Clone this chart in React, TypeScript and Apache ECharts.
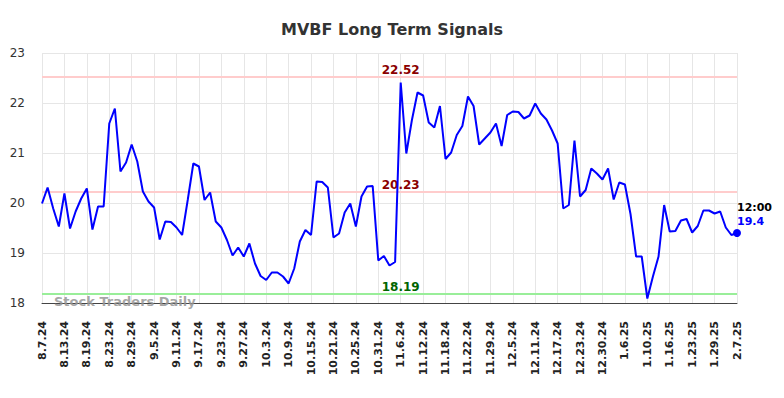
import React, { useEffect, useRef } from "react";
import * as echarts from "echarts";

const titleText = "MVBF Long Term Signals";

const dates: string[] = [
  "8.7.24","8.8.24","8.9.24","8.12.24","8.13.24","8.14.24","8.15.24","8.16.24","8.19.24","8.20.24",
  "8.21.24","8.22.24","8.23.24","8.26.24","8.27.24","8.28.24","8.29.24","8.30.24",
  "9.3.24","9.4.24","9.5.24","9.6.24","9.9.24","9.10.24","9.11.24","9.12.24","9.13.24","9.16.24",
  "9.17.24","9.18.24","9.19.24","9.20.24","9.23.24","9.24.24","9.25.24","9.26.24","9.27.24","9.30.24",
  "10.1.24","10.2.24","10.3.24","10.4.24","10.7.24","10.8.24","10.9.24","10.10.24","10.11.24","10.14.24",
  "10.15.24","10.16.24","10.17.24","10.18.24","10.21.24","10.22.24","10.23.24","10.24.24","10.25.24",
  "10.28.24","10.29.24","10.30.24","10.31.24",
  "11.1.24","11.4.24","11.5.24","11.6.24","11.7.24","11.8.24","11.11.24","11.12.24","11.13.24","11.14.24",
  "11.15.24","11.18.24","11.19.24","11.20.24","11.21.24","11.22.24","11.25.24","11.26.24","11.27.24","11.29.24",
  "12.2.24","12.3.24","12.4.24","12.5.24","12.6.24","12.9.24","12.10.24","12.11.24","12.12.24","12.13.24",
  "12.16.24","12.17.24","12.18.24","12.19.24","12.20.24","12.23.24","12.24.24","12.26.24","12.27.24","12.30.24",
  "12.31.24",
  "1.2.25","1.3.25","1.6.25","1.7.25","1.8.25","1.9.25","1.10.25","1.13.25","1.14.25","1.15.25",
  "1.16.25","1.17.25","1.21.25","1.22.25","1.23.25","1.24.25","1.27.25","1.28.25","1.29.25","1.30.25",
  "1.31.25","2.3.25","2.7.25",
];

const prices: number[] = [
  19.99, 20.31, 19.89, 19.53, 20.19, 19.49, 19.83, 20.09, 20.29, 19.47,
  19.93, 19.93, 21.59, 21.89, 20.63, 20.81, 21.17, 20.83, 20.23, 20.03,
  19.91, 19.27, 19.63, 19.62, 19.51, 19.36, 20.06, 20.79, 20.73, 20.06,
  20.21, 19.63, 19.51, 19.26, 18.95, 19.11, 18.93, 19.19, 18.79, 18.54,
  18.46, 18.61, 18.61, 18.53, 18.39, 18.69, 19.23, 19.46, 19.36, 20.43,
  20.42, 20.31, 19.31, 19.39, 19.81, 19.99, 19.53, 20.13, 20.33, 20.34,
  18.85, 18.94, 18.75, 18.82, 22.41, 20.99, 21.66, 22.21, 22.15, 21.61,
  21.51, 21.94, 20.88, 21.01, 21.36, 21.54, 22.13, 21.94, 21.17, 21.29,
  21.41, 21.59, 21.14, 21.76, 21.83, 21.82, 21.69, 21.75, 21.99, 21.79,
  21.67, 21.45, 21.19, 19.89, 19.96, 21.25, 20.13, 20.26, 20.69, 20.59,
  20.47, 20.69, 20.07, 20.41, 20.37, 19.78, 18.93, 18.93, 18.09, 18.53,
  18.93, 19.96, 19.43, 19.44, 19.65, 19.68, 19.41, 19.54, 19.85, 19.85,
  19.79, 19.83, 19.51, 19.36, 19.4,
];

const upperLevel = 22.52;
const middleLevel = 20.23;
const lowerLevel = 18.19;
const levelLabelIndex = 64;
const lastTimeLabel = "12:00";
const lastValueLabel = "19.4";

const yMin = 18;
const yMax = 23;
const yInterval = 1;

export default function App() {
  const ref = useRef<HTMLDivElement>(null);

  useEffect(() => {
    if (!ref.current) return;
    document.body.style.margin = "0";
    const chart = echarts.init(ref.current, null, { renderer: "svg" });
    const lastIdx = prices.length - 1;
    const font = "DejaVu Sans";
    const levelLabel = (color: string) => ({
      show: true,
      position: "top",
      distance: 1,
      fontFamily: font,
      fontSize: 12,
      fontWeight: "bold",
      color,
    });
    chart.setOption({
      animation: false,
      title: {
        text: titleText,
        left: "center",
        top: 16,
        textStyle: { fontFamily: font, fontSize: 16, fontWeight: "bold", color: "#333" },
      },
      grid: { left: 42, right: 47, top: 53, bottom: 95 },
      graphic: [
        {
          type: "text",
          left: 54,
          top: 295,
          style: {
            text: "Stock Traders Daily",
            fontFamily: font,
            fontSize: 13,
            fontWeight: "bold",
            fill: "rgba(150,150,150,0.85)",
          },
          z: 100,
        },
      ],
      xAxis: {
        type: "category",
        data: dates,
        boundaryGap: false,
        axisLine: { show: true, lineStyle: { color: "#444", width: 1 } },
        axisTick: { show: false },
        axisLabel: {
          interval: 3,
          rotate: 90,
          margin: 18,
          fontFamily: font,
          fontSize: 11,
          fontWeight: "bold",
          color: "#222",
        },
        splitLine: { show: true, interval: 3, lineStyle: { color: "#e6e6e6", width: 1 } },
      },
      yAxis: {
        type: "value",
        min: yMin,
        max: yMax,
        interval: yInterval,
        axisLine: { show: false },
        axisTick: { show: false },
        axisLabel: { margin: 17, fontFamily: font, fontSize: 12, color: "#333" },
        splitLine: { show: true, lineStyle: { color: "#e6e6e6", width: 1 } },
      },
      series: [
        {
          type: "line",
          data: prices,
          symbol: "none",
          lineStyle: { color: "#0000ff", width: 2 },
          z: 5,
          markLine: {
            silent: true,
            symbol: "none",
            label: { show: false },
            data: [
              { yAxis: upperLevel, lineStyle: { color: "#ffcccc", width: 2, type: "solid" } },
              { yAxis: middleLevel, lineStyle: { color: "#ffcccc", width: 2, type: "solid" } },
              { yAxis: lowerLevel, lineStyle: { color: "#99ee99", width: 2, type: "solid" } },
            ],
          },
          markPoint: {
            silent: true,
            data: [
              {
                coord: [levelLabelIndex, upperLevel],
                symbol: "circle",
                symbolSize: 0,
                label: { ...levelLabel("#8b0000"), formatter: upperLevel.toFixed(2) },
              },
              {
                coord: [levelLabelIndex, middleLevel],
                symbol: "circle",
                symbolSize: 0,
                label: { ...levelLabel("#8b0000"), formatter: middleLevel.toFixed(2) },
              },
              {
                coord: [levelLabelIndex, lowerLevel],
                symbol: "circle",
                symbolSize: 0,
                label: { ...levelLabel("#006400"), formatter: lowerLevel.toFixed(2) },
              },
              {
                coord: [lastIdx, prices[lastIdx]],
                symbol: "circle",
                symbolSize: 8,
                itemStyle: { color: "#0000ff" },
                label: {
                  show: true,
                  position: [4, -29],
                  align: "left",
                  verticalAlign: "top",
                  formatter: "{a|" + lastTimeLabel + "}\n{b|" + lastValueLabel + "}",
                  rich: {
                    a: { fontFamily: font, fontSize: 11, fontWeight: "bold", color: "#000", lineHeight: 14 },
                    b: { fontFamily: font, fontSize: 11, fontWeight: "bold", color: "#0000ff", lineHeight: 14 },
                  },
                },
              },
            ],
          },
        },
      ],
    });
    return () => chart.dispose();
  }, []);

  return <div ref={ref} style={{ width: 784, height: 398 }} />;
}
